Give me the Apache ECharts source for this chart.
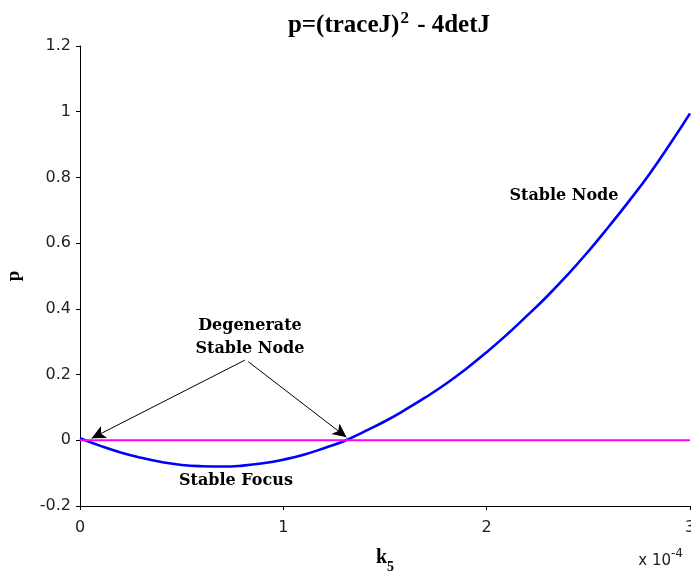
<!DOCTYPE html>
<html>
<head>
<meta charset="utf-8">
<script src="https://cdn.jsdelivr.net/npm/echarts@6/dist/echarts.min.js"></script>
<style>html,body{margin:0;padding:0;background:#fff;}#c{width:691px;height:573px;}</style>
</head>
<body>
<div id="c"></div>
<script>
// k5 values (in units of 1e-4)
const k5 = [0,0.1,0.2,0.3,0.4,0.5,0.6,0.7,0.8,0.9,1.0,1.1,1.2,1.3,1.4,1.5,1.6,1.7,1.8,1.9,2.0,2.1,2.2,2.3,2.4,2.5,2.6,2.7,2.8,2.9,3.0];
// p = (traceJ)^2 - 4detJ
const pVals = [0.006,-0.017,-0.037,-0.053,-0.066,-0.075,-0.079,-0.080,-0.077,-0.070,-0.059,-0.044,-0.024,-0.002,0.027,0.058,0.093,0.131,0.172,0.218,0.268,0.322,0.380,0.440,0.505,0.575,0.650,0.728,0.810,0.900,0.995];
// zero reference line
const zeroLineX = [0, 3];
const zeroLineY = [0, 0];
// axis ticks
const xTicks = [0, 1, 2, 3];
const yTicks = [-0.2, 0, 0.2, 0.4, 0.6, 0.8, 1, 1.2];
// annotation anchors (data coordinates)
const arrowStarts = [[0.811, 0.244], [0.828, 0.239]];
const arrowEnds = [[0.057, 0.006], [1.311, 0.009]];
const labelTexts = ['Degenerate\nStable Node', 'Stable Node', 'Stable Focus'];
const labelCoords = [[0.836, 0.313], [2.38, 0.743], [0.767, -0.122]];

const chart = echarts.init(document.getElementById('c'), null, {renderer: 'canvas'});

const option = {
  animation: false,
  backgroundColor: '#fff',
  grid: {left: 80, right: 1, top: 46, bottom: 67, containLabel: false, outerBoundsMode: 'none'},
  xAxis: {
    type: 'value', min: xTicks[0], max: xTicks[xTicks.length - 1], interval: 1,
    name: '{k|k}{s|5}', nameLocation: 'middle', nameGap: 42,
    nameTextStyle: {rich: {
      k: {fontFamily: 'Liberation Serif', fontWeight: 'bold', fontSize: 20, color: '#000', verticalAlign: 'bottom'},
      s: {fontFamily: 'Liberation Serif', fontWeight: 'bold', fontSize: 14, color: '#000', verticalAlign: 'bottom', padding: [0, 0, -6, 0]}
    }},
    axisLine: {show: true, onZero: false, lineStyle: {color: '#000', width: 1}},
    axisTick: {show: true, inside: false, length: 4, lineStyle: {color: '#000'}},
    axisLabel: {margin: 14, fontFamily: 'DejaVu Sans', fontSize: 16, color: '#222'},
    splitLine: {show: false}
  },
  yAxis: {
    type: 'value', min: yTicks[0], max: yTicks[yTicks.length - 1], interval: 0.2,
    name: 'p', nameLocation: 'middle', nameGap: 56, nameRotate: 90,
    nameTextStyle: {fontFamily: 'Liberation Serif', fontWeight: 'bold', fontSize: 19, color: '#000'},
    axisLine: {show: true, onZero: false, lineStyle: {color: '#000', width: 1}},
    axisTick: {show: true, inside: false, length: 4, lineStyle: {color: '#000'}},
    axisLabel: {margin: 9, fontFamily: 'DejaVu Sans', fontSize: 16, color: '#222'},
    splitLine: {show: false}
  },
  series: [
    {
      type: 'line', name: 'p', showSymbol: false, symbol: 'none', smooth: true,
      data: k5.map((x, i) => [x, pVals[i]]),
      lineStyle: {color: '#0000ff', width: 2.6},
      markPoint: {
        symbol: 'circle', symbolSize: 0,
        label: {show: true, position: 'inside', formatter: p => p.name, fontFamily: 'DejaVu Serif', fontWeight: 'bold', fontSize: 16, color: '#000', lineHeight: 23, align: 'center'},
        data: labelTexts.map((t, i) => ({name: t, coord: labelCoords[i]}))
      }
    },
    {
      type: 'line', name: 'zero', showSymbol: false, symbol: 'none',
      data: zeroLineX.map((x, i) => [x, zeroLineY[i]]),
      lineStyle: {color: '#ff00ff', width: 2},
      markLine: {
        silent: true, symbol: ['none', 'arrow'], symbolSize: [10, 14],
        label: {show: false},
        lineStyle: {color: '#000', width: 1, type: 'solid'},
        data: arrowStarts.map((s, i) => [{coord: s}, {coord: arrowEnds[i]}])
      }
    }
  ],
  graphic: [
    {
      type: 'text', x: 389, y: 24,
      style: {
        text: '{a|p=(traceJ)}{s|2}{a| - 4detJ}', align: 'center', verticalAlign: 'middle',
        rich: {
          a: {fontFamily: 'Liberation Serif', fontWeight: 'bold', fontSize: 25, fill: '#000', verticalAlign: 'bottom'},
          s: {fontFamily: 'Liberation Serif', fontWeight: 'bold', fontSize: 17, fill: '#000', verticalAlign: 'bottom', padding: [0, 2, 11, 1]}
        }
      }
    },
    {
      type: 'text', x: 683, y: 558,
      style: {
        text: '{a|x 10}{s|-4}', align: 'right', verticalAlign: 'middle',
        rich: {
          a: {fontFamily: 'DejaVu Sans', fontSize: 15, fill: '#222', verticalAlign: 'bottom'},
          s: {fontFamily: 'DejaVu Sans', fontSize: 12, fill: '#222', verticalAlign: 'bottom', padding: [0, 0, 9, 0]}
        }
      }
    }
  ]
};
chart.setOption(option);
</script>
</body>
</html>
